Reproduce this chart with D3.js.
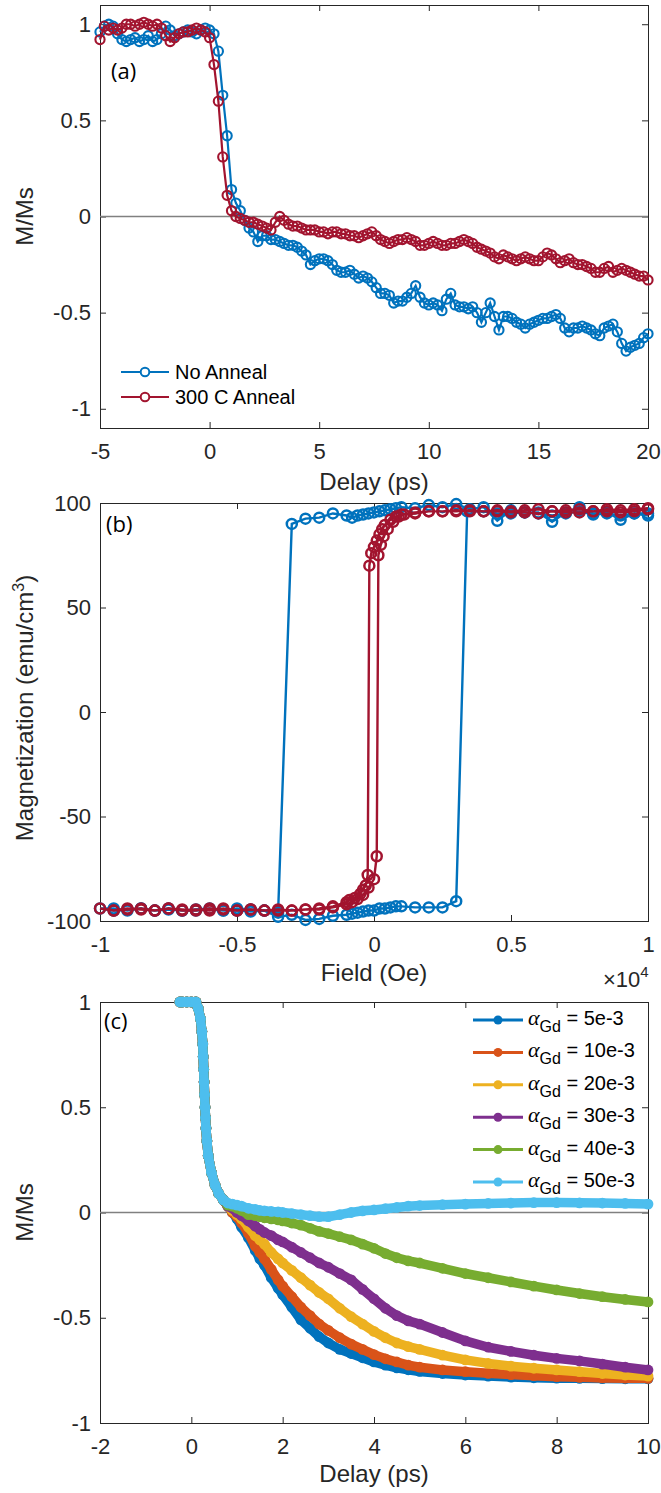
<!DOCTYPE html>
<html><head><meta charset="utf-8">
<script src="https://cdnjs.cloudflare.com/ajax/libs/d3/7.8.5/d3.min.js"></script>
<style>
body{margin:0;background:#fff}
svg{display:block}
text{font-family:"Liberation Sans",Arial,sans-serif;fill:#262626}
</style>
</head><body>
<svg id="fig" width="661" height="1493"></svg>
<script>
// ---------------- Panel (a) data ----------------
const aDelay = [-5,-4.8,-4.6,-4.4,-4.2,-4,-3.8,-3.6,-3.4,-3.2,-3,-2.8,-2.6,-2.4,-2.2,-2,-1.8,-1.6,-1.4,-1.2,-1,-0.8,-0.6,-0.4,-0.2,0,0.2,0.4,0.6,0.8,1,1.2,1.4,1.6,1.8,2,2.2,2.4,2.6,2.8,3,3.2,3.4,3.6,3.8,4,4.2,4.4,4.6,4.8,5,5.2,5.4,5.6,5.8,6,6.2,6.4,6.6,6.8,7,7.2,7.4,7.6,7.8,8,8.2,8.4,8.6,8.8,9,9.2,9.4,9.6,9.8,10,10.2,10.4,10.6,10.8,11,11.2,11.4,11.6,11.8,12,12.2,12.4,12.6,12.8,13,13.2,13.4,13.6,13.8,14,14.2,14.4,14.6,14.8,15,15.2,15.4,15.6,15.8,16,16.2,16.4,16.6,16.8,17,17.2,17.4,17.6,17.8,18,18.2,18.4,18.6,18.8,19,19.2,19.4,19.6,19.8,20];
const aNoAnneal = [0.96,0.99,1.00,0.99,0.95,0.92,0.91,0.92,0.93,0.91,0.92,0.94,0.91,0.92,0.95,0.99,0.97,0.94,0.95,0.96,0.97,0.96,0.95,0.97,0.98,0.97,
 0.95,0.86,0.63,0.42,0.14,0.07,0.03,-0.02,-0.06,-0.08,
 -0.13,-0.10,-0.10,-0.12,-0.12,-0.13,-0.14,-0.15,-0.15,-0.16,
 -0.18,-0.20,-0.25,-0.23,-0.22,-0.22,-0.23,-0.25,-0.28,-0.29,
 -0.29,-0.28,-0.30,-0.32,-0.31,-0.32,-0.34,-0.37,-0.40,-0.40,
 -0.41,-0.45,-0.44,-0.44,-0.42,-0.40,-0.36,-0.42,-0.45,-0.46,
 -0.45,-0.46,-0.49,-0.43,-0.40,-0.46,-0.47,-0.47,-0.48,-0.47,
 -0.50,-0.55,-0.50,-0.45,-0.52,-0.59,-0.52,-0.52,-0.53,-0.55,
 -0.56,-0.58,-0.56,-0.55,-0.54,-0.53,-0.53,-0.52,-0.51,-0.53,
 -0.58,-0.60,-0.58,-0.58,-0.57,-0.58,-0.59,-0.61,-0.62,-0.58,
 -0.57,-0.56,-0.60,-0.66,-0.70,-0.68,-0.67,-0.66,-0.63,-0.61];
const aAnneal300 = [0.92,0.99,0.97,0.98,0.97,0.98,1.00,1.00,0.99,1.00,1.01,1.00,0.99,1.00,0.98,0.94,0.91,0.93,0.95,0.96,0.96,0.97,0.98,0.97,0.96,0.93,
 0.79,0.60,0.31,0.11,0.03,0.00,-0.01,-0.02,-0.03,-0.03,
 -0.04,-0.05,-0.06,-0.07,-0.03,0.00,-0.02,-0.04,-0.05,-0.05,
 -0.06,-0.07,-0.07,-0.07,-0.08,-0.08,-0.09,-0.08,-0.08,-0.09,
 -0.09,-0.10,-0.10,-0.11,-0.10,-0.09,-0.08,-0.10,-0.12,-0.13,
 -0.14,-0.13,-0.12,-0.12,-0.11,-0.12,-0.13,-0.15,-0.15,-0.14,
 -0.13,-0.14,-0.15,-0.15,-0.14,-0.14,-0.13,-0.12,-0.13,-0.14,
 -0.16,-0.17,-0.18,-0.19,-0.21,-0.22,-0.20,-0.21,-0.22,-0.23,
 -0.22,-0.21,-0.22,-0.23,-0.23,-0.21,-0.19,-0.20,-0.22,-0.24,
 -0.23,-0.22,-0.24,-0.25,-0.25,-0.26,-0.27,-0.29,-0.29,-0.27,
 -0.26,-0.29,-0.28,-0.27,-0.28,-0.29,-0.30,-0.31,-0.31,-0.33];
const aSeriesNames = ["No Anneal", "300 C Anneal"];
const aXTicks = [-5, 0, 5, 10, 15, 20];
const aYTicks = [-1, -0.5, 0, 0.5, 1];

// ---------------- Panel (b) data ----------------
const bFieldNoAnneal = [10000,9500,9000,8500,8000,7500,7000,6500,6000,5500,5000,4500,4000,3500,3000,2500,2000,1500,1000,800,600,400,200,0,-200,-400,-600,-800,-1000,-1500,-2000,-2500,-3000,
 -3500,-4000,-4500,-5000,-5500,-6000,-6500,-7000,-7500,-8000,-8500,-9000,-9500,-10000,
 -9500,-9000,-8500,-8000,-7500,-7000,-6500,-6000,-5500,-5000,-4500,-4000,-3500,-3000,-2500,-2000,-1500,-1000,-800,-600,-400,-200,0,200,400,600,800,1000,1500,2000,2500,3000,
 3400,4000,4500,5000,5500,6000,6500,7000,7500,8000,8500,9000,9500,10000];
const bMomNoAnneal = [94,95,92,95.5,95,98,95.5,91,95.5,95.5,96.5,91.5,98,97,99.5,98,99,97.5,98,97.5,97,96.5,96,95.5,95,94.5,94,93,94,95,93,92.5,90,
 -96,-95,-94.5,-94,-95,-94,-94.5,-95,-94,-95,-94,-95,-94,-94,
 -95,-94.5,-94,-95,-94.5,-95,-95,-94.5,-95,-95,-95.5,-95,-98,-97,-99.5,-99,-97.5,-97,-96.5,-96,-95.5,-95,-95,-94,-94,-93.5,-93,-93,-93.5,-93.5,-93.5,-90.5,
 96,96,95,95,95.5,95,94,95,96,94.5,95,94,95,95];
const bFieldAnneal300 = [10000,9500,9000,8500,8000,7500,7000,6500,6000,5500,5000,4500,4000,3500,3000,2500,2000,1500,1000,800,600,400,300,200,100,0,-100,-170,
 -230,-300,-400,-500,-700,-900,-1000,-1500,-2000,-2500,-3000,-3500,-4000,-4500,-5000,-5500,-6000,-6500,-7000,-7500,-8000,-8500,-9000,-9500,-10000,
 -9500,-9000,-8500,-8000,-7500,-7000,-6500,-6000,-5500,-5000,-4500,-4000,-3500,-3000,-2500,-2000,-1500,-1000,-800,-600,-400,-200,0,100,
 160,250,350,500,700,900,1100,1500,2000,2500,3000,3500,4000,4500,5000,5500,6000,6500,7000,7500,8000,8500,9000,9500,10000];
const bMomAnneal300 = [97,96,95.5,96,96,95.5,95.5,96,95,95.5,95.5,96,96,96,96.5,96,96,95.5,94.5,93.5,92,89.5,87.5,85,82,79,76,70,
 -78,-83,-85,-87,-89,-90,-91,-93,-94,-94.5,-95,-95,-95,-94.5,-95,-94.5,-94,-95,-94.5,-94,-95,-94.5,-94,-95,-94,
 -95,-94.5,-94,-95,-94,-95,-94.5,-95,-94,-95,-94.5,-95,-94.5,-95,-94.5,-94.5,-93.5,-92,-91,-89.5,-87.5,-84,-80,-69,
 75,80,84,87.5,91,93.5,94.5,95,96,96,96,96.5,96,96.5,96,96.5,97,96,96.5,97,96,97,96.5,97,97.5];
const bXTicks = [-10000, -5000, 0, 5000, 10000];
const bYTicks = [-100, -50, 0, 50, 100];

// ---------------- Panel (c) data ----------------
const cDelay = [-0.25,-0.2,-0.1,0,0.1,0.15,0.2,0.23,0.25,0.26,0.27,0.28,0.29,0.3,0.31,0.32,0.34,0.37,0.44,0.52,0.6,0.7,
 0.8,0.9,1.0,1.1,1.25,1.4,1.5,1.6,1.75,1.9,2.0,2.2,2.4,2.6,2.8,3.0,3.25,3.5,3.75,4.0,4.25,4.5,4.75,5.0,5.5,6.0,6.5,7.0,7.5,8.0,8.5,9.0,9.5,10.0];
const cAlpha5 = [1,1,1,1,1,0.97,0.92,0.86,0.80,0.74,0.68,0.62,0.56,0.50,0.45,0.40,0.34,0.27,0.19,0.13,0.09,0.06,
 0.03,0.0,-0.03,-0.07,-0.12,-0.18,-0.22,-0.25,-0.31,-0.36,-0.39,-0.45,-0.51,-0.55,-0.59,-0.62,-0.65,-0.67,-0.69,-0.71,-0.725,-0.738,-0.747,-0.755,-0.765,-0.772,-0.777,-0.782,-0.785,-0.787,-0.788,-0.789,-0.79,-0.79];
const cAlpha10 = [1,1,1,1,1,0.97,0.92,0.86,0.80,0.74,0.68,0.62,0.56,0.50,0.45,0.40,0.34,0.27,0.19,0.13,0.09,0.06,
 0.03,0.0,-0.02,-0.05,-0.10,-0.16,-0.19,-0.22,-0.27,-0.32,-0.35,-0.40,-0.45,-0.49,-0.53,-0.56,-0.595,-0.625,-0.65,-0.675,-0.695,-0.71,-0.725,-0.735,-0.748,-0.756,-0.764,-0.77,-0.775,-0.78,-0.783,-0.786,-0.787,-0.788];
const cAlpha20 = [1,1,1,1,1,0.97,0.92,0.86,0.80,0.74,0.68,0.62,0.56,0.50,0.45,0.40,0.34,0.27,0.19,0.13,0.09,0.06,
 0.03,0.01,-0.01,-0.03,-0.07,-0.11,-0.13,-0.15,-0.19,-0.22,-0.24,-0.275,-0.31,-0.345,-0.38,-0.41,-0.455,-0.495,-0.53,-0.565,-0.595,-0.62,-0.637,-0.65,-0.678,-0.70,-0.717,-0.73,-0.74,-0.748,-0.756,-0.765,-0.772,-0.777];
const cAlpha30 = [1,1,1,1,1,0.97,0.92,0.86,0.80,0.74,0.68,0.62,0.56,0.50,0.45,0.40,0.34,0.27,0.19,0.13,0.09,0.06,
 0.03,0.02,0.0,-0.015,-0.04,-0.065,-0.08,-0.095,-0.11,-0.13,-0.14,-0.165,-0.19,-0.215,-0.24,-0.26,-0.29,-0.32,-0.365,-0.41,-0.455,-0.49,-0.515,-0.53,-0.57,-0.61,-0.64,-0.66,-0.678,-0.693,-0.705,-0.72,-0.735,-0.748];
const cAlpha40 = [1,1,1,1,1,0.97,0.92,0.86,0.80,0.74,0.68,0.62,0.56,0.50,0.45,0.40,0.34,0.27,0.19,0.13,0.09,0.06,
 0.035,0.03,0.02,0.01,-0.01,-0.015,-0.02,-0.025,-0.03,-0.035,-0.04,-0.05,-0.06,-0.075,-0.09,-0.10,-0.115,-0.13,-0.15,-0.17,-0.195,-0.215,-0.23,-0.24,-0.265,-0.29,-0.31,-0.33,-0.35,-0.368,-0.385,-0.40,-0.413,-0.425];
const cAlpha50 = [1,1,1,1,1,0.97,0.92,0.86,0.80,0.74,0.68,0.62,0.56,0.50,0.45,0.40,0.34,0.27,0.19,0.13,0.09,0.06,
 0.045,0.04,0.035,0.03,0.02,0.015,0.01,0.008,0.005,0.003,0.0,-0.005,-0.01,-0.015,-0.02,-0.02,-0.01,0.0,0.008,0.012,0.018,0.024,0.03,0.033,0.037,0.04,0.043,0.045,0.047,0.047,0.046,0.045,0.043,0.04];
const cLabels = ["5e-3", "10e-3", "20e-3", "30e-3", "40e-3", "50e-3"];
const cXTicks = [-2, 0, 2, 4, 6, 8, 10];
const cYTicks = [-1, -0.5, 0, 0.5, 1];

// ---------------- styling ----------------
const AX = "#262626";
const BLUE = "#0072BD", RED = "#A2142F";
const cColors = ["#0072BD", "#D95319", "#EDB120", "#7E2F8E", "#77AC30", "#4DBEEE"];
const TICK_FS = "22px", TITLE_FS = "24px";
const svg = d3.select("#fig");
const L = 100, R = 648;

function frame(x, y, xTicks, yTicks, xFmt, yFmt) {
  const g = svg.append("g");
  const [x0, x1] = x.range(), [y0, y1] = y.range();
  const style = sel => {
    sel.select(".domain").remove();
    sel.selectAll(".tick line").attr("stroke", AX).attr("stroke-width", 1);
    sel.selectAll(".tick text").attr("fill", AX).style("font-size", TICK_FS)
      .style("font-family", '"Liberation Sans", Arial, sans-serif');
    sel.attr("font-family", null).attr("font-size", null);
  };
  g.append("g").attr("transform", `translate(0,${y0})`)
    .call(d3.axisBottom(x).tickValues(xTicks).tickSizeInner(-6).tickSizeOuter(0).tickPadding(15).tickFormat(xFmt)).call(style);
  g.append("g").attr("transform", `translate(0,${y1})`)
    .call(d3.axisTop(x).tickValues(xTicks).tickSizeInner(-6).tickSizeOuter(0).tickFormat("")).call(style);
  g.append("g").attr("transform", `translate(${x0},0)`)
    .call(d3.axisLeft(y).tickValues(yTicks).tickSizeInner(-6).tickSizeOuter(0).tickPadding(9).tickFormat(yFmt)).call(style);
  g.append("g").attr("transform", `translate(${x1},0)`)
    .call(d3.axisRight(y).tickValues(yTicks).tickSizeInner(-6).tickSizeOuter(0).tickFormat("")).call(style);
  g.append("rect").attr("x", x0).attr("y", y1).attr("width", x1 - x0).attr("height", y0 - y1)
    .attr("fill", "none").attr("stroke", AX).attr("stroke-width", 1).attr("shape-rendering", "crispEdges");
  return g;
}
const fmt = d => String(d);

function yTitle(cy) {
  return svg.append("text").attr("transform", `translate(33,${cy}) rotate(-90)`)
    .attr("text-anchor", "middle").style("font-size", TITLE_FS);
}
function xTitle(text, y) {
  svg.append("text").attr("x", (L + R) / 2).attr("y", y).attr("text-anchor", "middle")
    .style("font-size", TITLE_FS).text(text);
}
function panelTag(text, x, y) {
  svg.append("text").attr("x", x).attr("y", y).style("font-family", '"Open Sans", "DejaVu Sans", sans-serif')
    .style("font-size", "22px").style("fill", "#000").text(text);
}

// ---------------- Panel (a) ----------------
{
  const x = d3.scaleLinear().domain([-5, 20]).range([L, R]);
  const y = d3.scaleLinear().domain([-1.1, 1.1]).range([428, 5]);
  frame(x, y, aXTicks, aYTicks, fmt, fmt);
  svg.append("line").attr("x1", L).attr("x2", R).attr("y1", y(0)).attr("y2", y(0))
    .attr("stroke", "#808080").attr("stroke-width", 1.5);
  const series = [{v: aNoAnneal, c: BLUE}, {v: aAnneal300, c: RED}];
  series.forEach(s => {
    const pts = aDelay.map((d, i) => [d, s.v[i]]);
    svg.append("path").datum(pts).attr("fill", "none").attr("stroke", s.c).attr("stroke-width", 2.2)
      .attr("d", d3.line().x(d => x(d[0])).y(d => y(d[1])));
    svg.append("g").selectAll("circle").data(pts).join("circle")
      .attr("cx", d => x(d[0])).attr("cy", d => y(d[1])).attr("r", 4.6)
      .attr("fill", "none").attr("stroke", s.c).attr("stroke-width", 2.1);
  });
  const lg = svg.append("g");
  [[BLUE, 372], [RED, 397]].forEach(([c, ly], i) => {
    lg.append("line").attr("x1", 121).attr("x2", 169).attr("y1", ly).attr("y2", ly).attr("stroke", c).attr("stroke-width", 2.2);
    lg.append("circle").attr("cx", 145).attr("cy", ly).attr("r", 4.3).attr("fill", "#fff").attr("stroke", c).attr("stroke-width", 2);
    lg.append("text").attr("x", 175).attr("y", ly + 7).style("font-size", "20px").style("fill", "#000").text(aSeriesNames[i]);
  });
  panelTag("(a)", 111, 79);
  xTitle("Delay (ps)", 490);
  yTitle(y(0)).text("M/Ms");
}

// ---------------- Panel (b) ----------------
{
  const x = d3.scaleLinear().domain([-10000, 10000]).range([L, R]);
  const y = d3.scaleLinear().domain([-100, 100]).range([921, 503]);
  frame(x, y, bXTicks, bYTicks, d => String(d / 10000), fmt);
  const series = [{h: bFieldNoAnneal, m: bMomNoAnneal, c: BLUE}, {h: bFieldAnneal300, m: bMomAnneal300, c: RED}];
  series.forEach(s => {
    const pts = s.h.map((d, i) => [d, s.m[i]]);
    svg.append("path").datum(pts).attr("fill", "none").attr("stroke", s.c).attr("stroke-width", 2.4)
      .attr("d", d3.line().x(d => x(d[0])).y(d => y(d[1])));
    svg.append("g").selectAll("circle").data(pts).join("circle")
      .attr("cx", d => x(d[0])).attr("cy", d => y(d[1])).attr("r", 5)
      .attr("fill", "none").attr("stroke", s.c).attr("stroke-width", 2.5);
  });
  panelTag("(b)", 106, 532);
  xTitle("Field (Oe)", 981);
  const t = yTitle(y(0) - 4);
  t.append("tspan").text("Magnetization (emu/cm");
  t.append("tspan").attr("dy", -9).style("font-size", "16px").text("3");
  t.append("tspan").attr("dy", 9).text(")");
  const ex = svg.append("text").attr("x", 603).attr("y", 987).style("font-size", TICK_FS);
  ex.append("tspan").text("\u00d710");
  ex.append("tspan").attr("dy", -10).style("font-size", "15px").text("4");
}

// ---------------- Panel (c) ----------------
{
  const x = d3.scaleLinear().domain([-2, 10]).range([L, R]);
  const y = d3.scaleLinear().domain([-1, 1]).range([1423, 1002]);
  frame(x, y, cXTicks, cYTicks, fmt, fmt);
  svg.append("line").attr("x1", L).attr("x2", R).attr("y1", y(0)).attr("y2", y(0))
    .attr("stroke", "#808080").attr("stroke-width", 1.5);
  const all = [cAlpha5, cAlpha10, cAlpha20, cAlpha30, cAlpha40, cAlpha50];
  all.forEach((vals, k) => {
    const pts = cDelay.map((d, i) => [d, vals[i]]);
    svg.append("path").datum(pts).attr("fill", "none").attr("stroke", cColors[k]).attr("stroke-width", 9.5)
      .attr("stroke-linejoin", "round").attr("stroke-linecap", "round")
      .attr("d", d3.line().x(d => x(d[0])).y(d => y(d[1])));
    svg.append("g").selectAll("circle").data(pts).join("circle")
      .attr("cx", d => x(d[0])).attr("cy", d => y(d[1])).attr("r", 5.4).attr("fill", cColors[k]);
  });
  const lg = svg.append("g");
  cLabels.forEach((lab, i) => {
    const ly = 1020 + i * 32.4;
    lg.append("line").attr("x1", 473).attr("x2", 523).attr("y1", ly).attr("y2", ly).attr("stroke", cColors[i]).attr("stroke-width", 3);
    lg.append("circle").attr("cx", 498).attr("cy", ly).attr("r", 4.5).attr("fill", cColors[i]);
    const t = lg.append("text").attr("x", 528).attr("y", ly + 5).style("font-size", "20px").style("fill", "#000");
    t.append("tspan").style("font-family", '"Liberation Serif", serif').style("font-style", "italic").style("font-size", "22px").text("\u03b1");
    t.append("tspan").attr("dy", 7).style("font-size", "16px").text("Gd");
    t.append("tspan").attr("dy", -7).text(" = " + lab);
  });
  panelTag("(c)", 104, 1029);
  xTitle("Delay (ps)", 1482);
  yTitle(y(0)).text("M/Ms");
}
</script>
</body></html>
